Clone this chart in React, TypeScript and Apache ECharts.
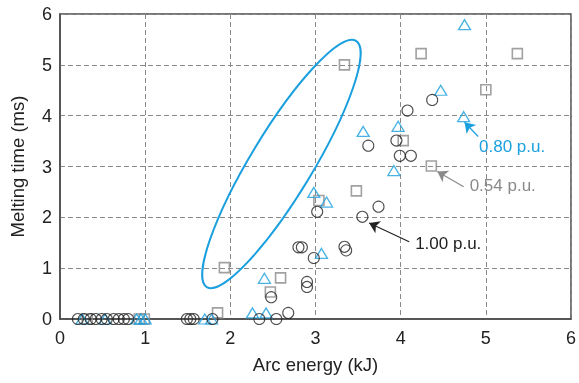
import { useEffect, useRef } from 'react';
import * as echarts from 'echarts';

// 1.00 p.u. (circles)
const circleX = [0.21, 0.28, 0.36, 0.42, 0.49, 0.55, 0.63, 0.69, 0.75, 0.8, 1.49, 1.53, 1.57, 1.79, 2.34, 2.54, 2.68, 2.48, 2.9, 2.9, 2.8, 2.84, 2.98, 3.02, 3.34, 3.36, 3.55, 3.74, 3.62, 3.95, 3.99, 4.12, 4.08, 4.37];
const circleY = [0, 0, 0, 0, 0, 0, 0, 0, 0, 0, 0, 0, 0, 0, 0, 0, 0.12, 0.43, 0.73, 0.63, 1.41, 1.41, 1.2, 2.11, 1.42, 1.35, 2.01, 2.21, 3.41, 3.51, 3.21, 3.21, 4.1, 4.31];
// 0.80 p.u. (triangles)
const triX = [0.26, 0.53, 0.9, 0.95, 1.0, 1.7, 1.78, 2.26, 2.42, 2.4, 2.98, 3.13, 3.07, 3.56, 3.97, 3.92, 4.47, 4.74, 4.75];
const triY = [0, 0, 0, 0, 0, 0, 0, 0.12, 0.12, 0.8, 2.49, 2.3, 1.29, 3.69, 3.79, 2.92, 4.5, 3.98, 5.79];
// 0.54 p.u. (squares)
const sqX = [0.32, 0.93, 0.99, 1.85, 1.93, 2.47, 2.59, 3.04, 3.34, 3.48, 4.03, 4.36, 4.24, 5.0, 5.37];
const sqY = [0, 0, 0, 0.12, 1.01, 0.53, 0.81, 2.33, 5.0, 2.52, 3.51, 3.01, 5.22, 4.51, 5.22];

const xTicks = [0, 1, 2, 3, 4, 5, 6];
const yTicks = [0, 1, 2, 3, 4, 5, 6];

// annotations (data coordinates)
const labels = [
  { text: '0.80 p.u.', at: [4.92, 3.39], color: '#1a9fdf', from: [4.91, 3.59], to: [4.75, 3.87] },
  { text: '0.54 p.u.', at: [4.81, 2.62], color: '#8a8a8a', from: [4.74, 2.6], to: [4.43, 2.9] },
  { text: '1.00 p.u.', at: [4.17, 1.49], color: '#222222', from: [4.1, 1.52], to: [3.63, 1.89] },
];
const ellipseCenter = [2.6, 3.05];

const BLUE = '#1a9fdf';
const GRAY = '#8a8a8a';
const BLACK = '#222222';
const FONT = '"Liberation Sans", Arial, Helvetica, sans-serif';

const zip = (xs: number[], ys: number[]) => xs.map((x, i) => [x, ys[i]]);

export default function App() {
  const ref = useRef<HTMLDivElement>(null);
  useEffect(() => {
    const chart = echarts.init(ref.current!, null, { renderer: 'svg' });
    const arrow = (l: any) => ({
      silent: true,
      symbol: ['none', 'arrow'],
      symbolSize: 10,
      label: { show: false },
      lineStyle: { color: l.color, width: 1.2, type: 'solid' },
      data: [[{ coord: l.from }, { coord: l.to }]],
    });
    chart.setOption({
      animation: false,
      grid: { left: 58, right: 7, top: 14, bottom: 64, show: true, borderColor: '#4a4a4a', borderWidth: 1.5, backgroundColor: '#fff' },
      xAxis: {
        type: 'value', min: xTicks[0], max: xTicks[xTicks.length - 1], interval: 1,
        name: 'Arc energy (kJ)', nameLocation: 'middle', nameGap: 36,
        nameTextStyle: { fontFamily: FONT, fontSize: 18.5, color: BLACK },
        axisLine: { lineStyle: { color: '#4a4a4a', width: 1.5 } },
        axisTick: { show: false },
        axisLabel: { fontFamily: FONT, fontSize: 18, color: BLACK, margin: 10 },
        splitLine: { lineStyle: { color: GRAY, type: [5, 3], width: 1 } },
      },
      yAxis: {
        type: 'value', min: yTicks[0], max: yTicks[yTicks.length - 1], interval: 1,
        name: 'Melting time (ms)', nameLocation: 'middle', nameGap: 33,
        nameTextStyle: { fontFamily: FONT, fontSize: 18.5, color: BLACK },
        axisLine: { lineStyle: { color: '#4a4a4a', width: 1.5 } },
        axisTick: { show: false },
        axisLabel: { fontFamily: FONT, fontSize: 18, color: BLACK, margin: 8 },
        splitLine: { lineStyle: { color: GRAY, type: [5, 3], width: 1 } },
      },
      series: [
        {
          type: 'scatter', name: '0.54 p.u.', data: zip(sqX, sqY), symbol: 'rect', symbolSize: 10,
          itemStyle: { color: 'rgba(0,0,0,0)', borderColor: GRAY, borderWidth: 1.6 },
          markLine: arrow(labels[1]),
        },
        {
          type: 'scatter', name: '0.80 p.u.', data: zip(triX, triY), symbol: 'triangle', symbolSize: [12, 10],
          itemStyle: { color: 'rgba(0,0,0,0)', borderColor: BLUE, borderWidth: 1.3 },
          markLine: arrow(labels[0]),
        },
        {
          type: 'scatter', name: '1.00 p.u.', data: zip(circleX, circleY), symbol: 'circle', symbolSize: 11,
          itemStyle: { color: 'rgba(0,0,0,0)', borderColor: BLACK, borderWidth: 1.1 },
          markLine: arrow(labels[2]),
        },
      ],
    });
    const px = (p: number[]) => chart.convertToPixel({ gridIndex: 0 }, p) as number[];
    const c = px(ellipseCenter);
    chart.setOption({
      graphic: [
        {
          type: 'ellipse', x: c[0], y: c[1], rotation: (58.8 * Math.PI) / 180, silent: true,
          shape: { cx: 0, cy: 0, rx: 144, ry: 31 },
          style: { fill: 'none', stroke: BLUE, lineWidth: 2 },
          z: 10,
        },
        ...labels.map((l) => {
          const p = px(l.at);
          return {
            type: 'text', x: p[0], y: p[1], silent: true, z: 10,
            style: { text: l.text, fill: l.color, fontSize: 17, fontFamily: FONT, align: 'left', verticalAlign: 'middle' },
          };
        }),
      ],
    });
    return () => chart.dispose();
  }, []);
  return <div ref={ref} style={{ position: 'fixed', left: 0, top: 0, width: 579, height: 383 }} />;
}
